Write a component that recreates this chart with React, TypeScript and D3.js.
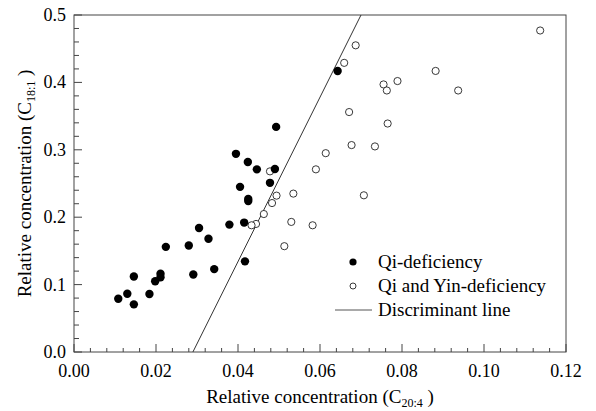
import React, { useEffect, useRef } from "react";
import * as d3 from "d3";

// Qi-deficiency (filled)
const qiX = [0.0108, 0.013, 0.0146, 0.0146, 0.0184, 0.0198, 0.0211, 0.0211, 0.0224, 0.028, 0.0291, 0.0305,
  0.0328, 0.0342, 0.0379, 0.0415, 0.0417, 0.0405, 0.0425, 0.0425, 0.0395, 0.0424, 0.0446, 0.049, 0.0478,
  0.0493, 0.0643];
const qiY = [0.079, 0.0865, 0.0707, 0.112, 0.086, 0.105, 0.116, 0.111, 0.156, 0.158, 0.115, 0.184,
  0.168, 0.123, 0.189, 0.192, 0.1345, 0.245, 0.227, 0.224, 0.294, 0.282, 0.271, 0.2715, 0.251,
  0.334, 0.417];

// Qi and Yin-deficiency (open)
const yinX = [0.1137, 0.0687, 0.0659, 0.0882, 0.0789, 0.0755, 0.0763, 0.0937, 0.0671, 0.0765, 0.0677, 0.0734,
  0.0614, 0.059, 0.0478, 0.0535, 0.0494, 0.0483, 0.0707, 0.0463, 0.0444, 0.0433, 0.053, 0.0582, 0.0513];
const yinY = [0.477, 0.455, 0.429, 0.417, 0.402, 0.397, 0.388, 0.388, 0.356, 0.339, 0.307, 0.305,
  0.295, 0.271, 0.268, 0.235, 0.232, 0.221, 0.2325, 0.2047, 0.19, 0.188, 0.193, 0.188, 0.157];

// discriminant line endpoints
const lineX = [0.029, 0.07];
const lineY = [0.0, 0.5];

const xTicks = [0, 0.02, 0.04, 0.06, 0.08, 0.1, 0.12];
const yTicks = [0, 0.1, 0.2, 0.3, 0.4, 0.5];
const legendLabels = ["Qi-deficiency", "Qi and Yin-deficiency", "Discriminant line"];

const W = 596;
const H = 411;
const margin = { top: 15, right: 30, bottom: 59, left: 74 };
const font = "'Liberation Serif', 'Times New Roman', serif";

export default function App() {
  const svgRef = useRef<SVGSVGElement>(null);

  useEffect(() => {
    const svg = d3.select(svgRef.current);
    svg.selectAll("*").remove();

    const iw = W - margin.left - margin.right;
    const ih = H - margin.top - margin.bottom;
    const x = d3.scaleLinear().domain([0, 0.12]).range([0, iw]);
    const y = d3.scaleLinear().domain([0, 0.5]).range([ih, 0]);

    const g = svg.append("g").attr("transform", `translate(${margin.left},${margin.top})`);

    // frame
    g.append("rect")
      .attr("width", iw)
      .attr("height", ih)
      .attr("fill", "none")
      .attr("stroke", "#444")
      .attr("stroke-width", 1);

    // x ticks (inside), minor every 0.004
    const xMinor = d3.range(0, 0.1201, 0.004);
    g.selectAll(".xm")
      .data(xMinor)
      .enter()
      .append("line")
      .attr("x1", (d) => x(d))
      .attr("x2", (d) => x(d))
      .attr("y1", ih)
      .attr("y2", (d) => ih - (xTicks.some((t) => Math.abs(t - d) < 1e-6) ? 8 : 4))
      .attr("stroke", "#444");

    g.selectAll(".xl")
      .data(xTicks)
      .enter()
      .append("text")
      .attr("x", (d) => x(d))
      .attr("y", ih + 25)
      .attr("text-anchor", "middle")
      .attr("font-family", font)
      .attr("font-size", 18)
      .text((d) => d.toFixed(2));

    // y ticks (inside), minor every 0.02
    const yMinor = d3.range(0, 0.5001, 0.02);
    g.selectAll(".ym")
      .data(yMinor)
      .enter()
      .append("line")
      .attr("x1", 0)
      .attr("x2", (d) => (yTicks.some((t) => Math.abs(t - d) < 1e-6) ? 8 : 5))
      .attr("y1", (d) => y(d))
      .attr("y2", (d) => y(d))
      .attr("stroke", "#444");

    g.selectAll(".yl")
      .data(yTicks)
      .enter()
      .append("text")
      .attr("x", -8)
      .attr("y", (d) => y(d) + 6)
      .attr("text-anchor", "end")
      .attr("font-family", font)
      .attr("font-size", 18)
      .text((d) => d.toFixed(1));

    // discriminant line
    g.append("line")
      .attr("x1", x(lineX[0]))
      .attr("y1", y(lineY[0]))
      .attr("x2", x(lineX[1]))
      .attr("y2", y(lineY[1]))
      .attr("stroke", "#333")
      .attr("stroke-width", 1);

    // open points
    g.selectAll(".yin")
      .data(yinX)
      .enter()
      .append("circle")
      .attr("cx", (d) => x(d))
      .attr("cy", (_, i) => y(yinY[i]))
      .attr("r", 3.6)
      .attr("fill", "white")
      .attr("stroke", "#222")
      .attr("stroke-width", 0.9);

    // filled points
    g.selectAll(".qi")
      .data(qiX)
      .enter()
      .append("circle")
      .attr("cx", (d) => x(d))
      .attr("cy", (_, i) => y(qiY[i]))
      .attr("r", 4.2)
      .attr("fill", "#000");

    // legend
    const lg = svg.append("g").attr("transform", "translate(353,262)");
    lg.append("circle").attr("r", 3.6).attr("fill", "#000");
    lg.append("circle").attr("cy", 24).attr("r", 3).attr("fill", "white").attr("stroke", "#222").attr("stroke-width", 0.9);
    lg.append("line").attr("x1", -18).attr("x2", 19).attr("y1", 48).attr("y2", 48).attr("stroke", "#555");
    lg.selectAll("text")
      .data(legendLabels)
      .enter()
      .append("text")
      .attr("x", 25)
      .attr("y", (_, i) => i * 24 + 6)
      .attr("font-family", font)
      .attr("font-size", 19)
      .text((d) => d);

    // axis titles
    const xt = svg.append("text")
      .attr("x", margin.left + iw / 2)
      .attr("y", 403)
      .attr("text-anchor", "middle")
      .attr("font-family", font)
      .attr("font-size", 19);
    xt.append("tspan").text("Relative concentration (C");
    xt.append("tspan").attr("font-size", 12).attr("dy", 4).text("20:4");
    xt.append("tspan").attr("dy", -4).text(" )");

    const yt = svg.append("text")
      .attr("transform", `translate(31,${margin.top + ih / 2}) rotate(-90)`)
      .attr("text-anchor", "middle")
      .attr("font-family", font)
      .attr("font-size", 19);
    yt.append("tspan").text("Relative concentration (C");
    yt.append("tspan").attr("font-size", 12).attr("dy", 4).text("18:1");
    yt.append("tspan").attr("dy", -4).text(" )");
  }, []);

  return (
    <svg
      ref={svgRef}
      width={W}
      height={H}
      style={{ position: "absolute", left: 0, top: 0, background: "white" }}
    />
  );
}
